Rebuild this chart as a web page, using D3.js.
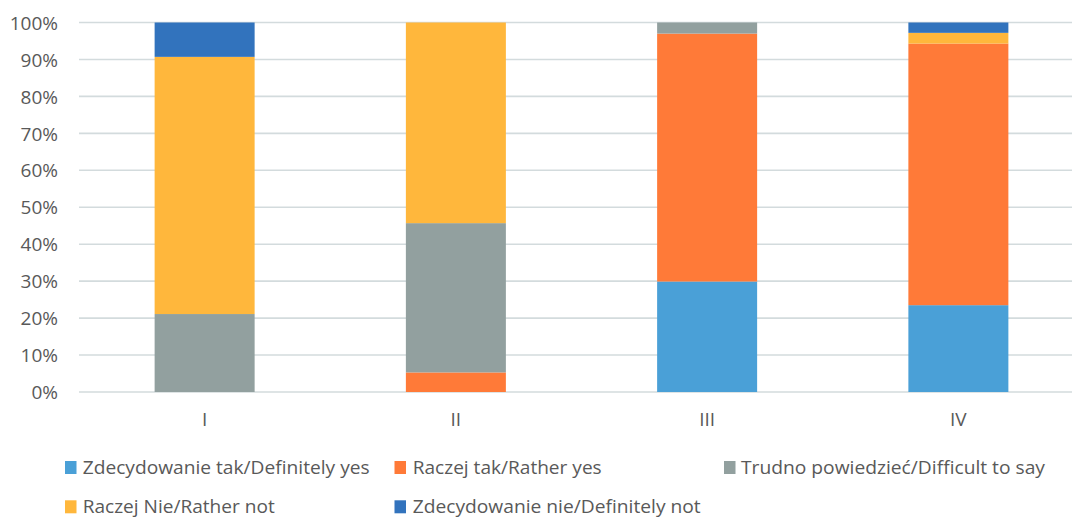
<!DOCTYPE html>
<html>
<head>
<meta charset="utf-8">
<script src="https://cdn.jsdelivr.net/npm/d3@7"></script>
<style>
  html, body { margin: 0; padding: 0; background: #fff; }
  svg { display: block; }
  text { font-family: "Liberation Sans Narrow", "Open Sans", "Liberation Sans", sans-serif; fill: #595959; }
</style>
</head>
<body>
<svg id="chart" width="1072" height="518"></svg>
<script>
const categories = ["I", "II", "III", "IV"];
const seriesNames = [
  "Zdecydowanie tak/Definitely yes",
  "Raczej tak/Rather yes",
  "Trudno powiedzieć/Difficult to say",
  "Raczej Nie/Rather not",
  "Zdecydowanie nie/Definitely not"
];
const definitelyYes = [0, 0, 29.9, 23.5];
const ratherYes     = [0, 5.3, 67.1, 70.8];
const difficult     = [21.1, 40.4, 3.0, 0];
const ratherNot     = [69.6, 54.3, 0, 2.9];
const definitelyNot = [9.3, 0, 0, 2.8];
const yTicks = [0, 10, 20, 30, 40, 50, 60, 70, 80, 90, 100];
const colors = ["#4aa0d7", "#ff7a38", "#92a09f", "#ffb73c", "#3273bd"];

(function () {
const seriesValues = [definitelyYes, ratherYes, difficult, ratherNot, definitelyNot];
const rows = categories.map((c, i) => {
  const r = { cat: c };
  seriesNames.forEach((s, j) => r[s] = seriesValues[j][i]);
  return r;
});

const svg = d3.select("#chart");
const pLeft = 79, pRight = 1084, pTop = 22.5, pBottom = 392;

const x = d3.scaleBand().domain(categories).range([pLeft, pRight]).paddingInner(0.602).paddingOuter(0.301);
const y = d3.scaleLinear().domain([0, 100]).range([pBottom, pTop]);

// gridlines
svg.append("g").selectAll("line").data(yTicks).join("line")
  .attr("x1", pLeft).attr("x2", pRight)
  .attr("y1", d => y(d)).attr("y2", d => y(d))
  .attr("stroke", "#d3dbdd").attr("stroke-width", 1.6);

// y axis labels
const yAxis = d3.axisLeft(y).tickValues(yTicks).tickFormat(d => d + "%").tickSize(0).tickPadding(0);
const gy = svg.append("g").attr("transform", `translate(58,0)`).call(yAxis);
gy.select(".domain").remove();
gy.selectAll("text").attr("font-size", 19).style("fill", "#595959")
  .attr("font-family", '"Liberation Sans Narrow", "Open Sans", sans-serif')
  .attr("dy", "0.35em");

// bars
const stacked = d3.stack().keys(seriesNames)(rows);
svg.append("g").selectAll("g").data(stacked).join("g")
  .attr("fill", (d, i) => colors[i])
  .selectAll("rect").data(d => d).join("rect")
  .attr("x", d => x(d.data.cat))
  .attr("width", x.bandwidth())
  .attr("y", d => y(d[1]))
  .attr("height", d => y(d[0]) - y(d[1]));

// x axis labels
const xAxis = d3.axisBottom(x).tickSize(0).tickPadding(0);
const gx = svg.append("g").attr("transform", `translate(0,426)`).call(xAxis);
gx.select(".domain").remove();
gx.selectAll("text").attr("font-size", 19).attr("dy", 0).style("fill", "#595959")
  .attr("font-family", '"Liberation Sans Narrow", "Open Sans", sans-serif');

// legend
const legendPos = [
  { sx: 65, tx: 82.7, w: 287, base: 474 },
  { sx: 394.5, tx: 412.7, w: 189, base: 474 },
  { sx: 724, tx: 741, w: 304, base: 474 },
  { sx: 65, tx: 82.7, w: 192, base: 513.3 },
  { sx: 394.5, tx: 412.7, w: 288, base: 513.3 }
];
const lg = svg.append("g");
seriesNames.forEach((s, i) => {
  const p = legendPos[i];
  lg.append("rect").attr("x", p.sx).attr("y", p.base - 13).attr("width", 11.5).attr("height", 13).attr("fill", colors[i]);
  lg.append("text").attr("x", p.tx).attr("y", p.base).attr("font-size", 18.5)
    .attr("textLength", p.w).attr("lengthAdjust", "spacingAndGlyphs").text(s);
});
})();
</script>
</body>
</html>
